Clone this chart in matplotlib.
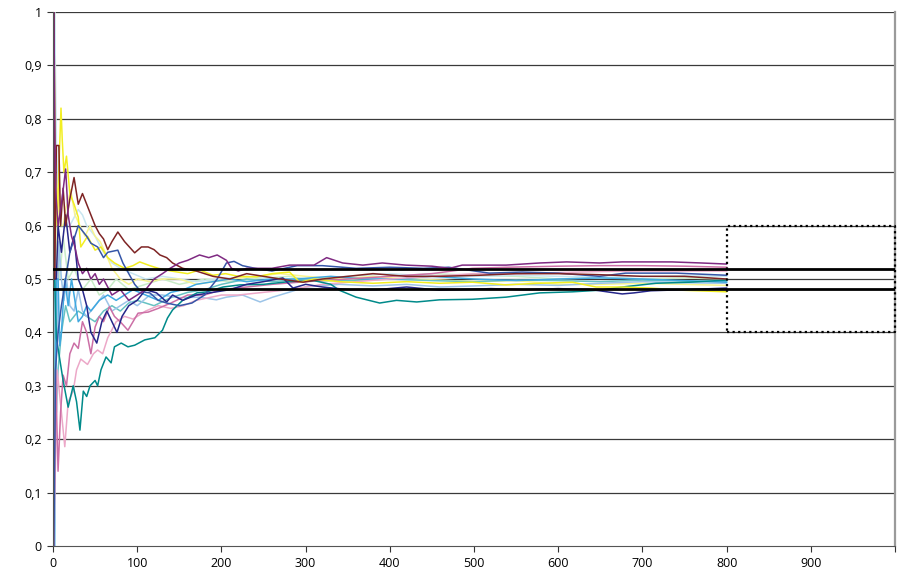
import matplotlib
matplotlib.use("Agg")
import matplotlib.pyplot as plt

# ---------------- data ----------------
maroon = [(1,1.0),(2,0.5),(4,0.75),(7,0.75),(9,0.6),(12,0.67),(15,0.6),(20,0.65),(25,0.69),(30,0.64),
          (35,0.66),(40,0.64),(45,0.62),(50,0.6),(55,0.585),(60,0.575),(65,0.555),(70,0.57),(77,0.588),
          (85,0.57),(97,0.549),(105,0.56),(113,0.56),(120,0.555),(127,0.545),(135,0.54),(142,0.53),
          (154,0.52),(170,0.515),(190,0.505),(210,0.5),(230,0.51),(250,0.505),(270,0.5),(297,0.494),
          (320,0.5),(350,0.505),(380,0.51),(420,0.505),(460,0.505),(506,0.507),(550,0.51),(600,0.51),
          (650,0.508),(700,0.505),(750,0.505),(800,0.5)]
purple = [(1,1.0),(3,0.67),(6,0.6),(10,0.64),(15,0.706),(18,0.62),(22,0.58),(26,0.56),(30,0.53),(35,0.51),
          (40,0.52),(45,0.5),(50,0.51),(55,0.49),(60,0.5),(70,0.47),(80,0.48),(90,0.46),(100,0.47),
          (110,0.48),(120,0.5),(130,0.51),(139,0.52),(150,0.53),(160,0.535),(174,0.545),(185,0.54),
          (195,0.545),(206,0.535),(212,0.52),(220,0.515),(230,0.52),(260,0.52),(281,0.526),(310,0.526),
          (325,0.54),(344,0.53),(368,0.526),(391,0.53),(419,0.526),(450,0.524),(471,0.52),(486,0.526),
          (538,0.526),(578,0.53),(610,0.532),(649,0.53),(676,0.532),(735,0.532),(770,0.53),(800,0.528)]
mauve = [(1,0.0),(3,0.33),(6,0.14),(9,0.25),(12,0.32),(16,0.3),(20,0.36),(25,0.38),(30,0.37),(35,0.42),
         (40,0.4),(45,0.36),(50,0.41),(55,0.43),(60,0.42),(67,0.448),(73,0.43),(81,0.418),(89,0.404),
         (101,0.436),(113,0.438),(125,0.445),(140,0.455),(160,0.47),(180,0.47),(200,0.48),(230,0.485),
         (260,0.49),(300,0.495),(350,0.5),(400,0.505),(450,0.51),(498,0.52),(540,0.522),(600,0.524),
         (650,0.525),(700,0.525),(750,0.524),(800,0.522)]
pink = [(1,0.0),(5,0.33),(10,0.25),(14,0.186),(18,0.27),(24,0.29),(28,0.33),(33,0.35),(41,0.34),(48,0.36),
        (53,0.367),(59,0.36),(65,0.39),(75,0.42),(85,0.43),(95,0.425),(110,0.44),(125,0.45),(140,0.445),
        (155,0.45),(170,0.46),(185,0.465),(200,0.47),(220,0.47),(250,0.475),(280,0.48),(320,0.49),
        (360,0.495),(400,0.5),(450,0.505),(500,0.51),(550,0.51),(600,0.512),(650,0.514),(700,0.515),
        (750,0.515),(800,0.515)]
teal = [(2,0.5),(4,0.39),(8,0.35),(12,0.31),(18,0.26),(24,0.3),(28,0.27),(32,0.217),(36,0.29),(40,0.28),
        (44,0.3),(50,0.31),(53,0.3),(57,0.33),(63,0.354),(69,0.343),(73,0.373),(81,0.38),(89,0.373),
        (97,0.376),(109,0.386),(121,0.39),(130,0.404),(136,0.427),(142,0.442),(154,0.46),(171,0.474),
        (183,0.476),(202,0.485),(222,0.489),(250,0.49),(280,0.495),(310,0.497),(330,0.49),(340,0.479),
        (360,0.466),(388,0.455),(408,0.46),(432,0.457),(459,0.461),(498,0.462),(538,0.466),(578,0.474),
        (617,0.476),(649,0.479),(676,0.485),(716,0.492),(756,0.494),(800,0.498)]
navy = [(1,1.0),(2,0.5),(4,0.5),(6,0.6),(10,0.55),(15,0.62),(20,0.55),(25,0.58),(30,0.5),(35,0.48),
        (40,0.45),(45,0.4),(52,0.38),(58,0.42),(64,0.44),(70,0.42),(76,0.4),(82,0.43),(90,0.45),(100,0.46),
        (110,0.48),(123,0.474),(135,0.457),(142,0.47),(154,0.46),(170,0.47),(190,0.475),(210,0.48),
        (230,0.49),(250,0.495),(273,0.502),(285,0.483),(300,0.49),(320,0.485),(332,0.483),(352,0.48),
        (384,0.48),(420,0.485),(459,0.479),(483,0.48),(520,0.482),(560,0.48),(600,0.482),(640,0.48),
        (676,0.472),(690,0.474),(710,0.478),(750,0.48),(800,0.483)]
blue = [(1,0.0),(3,0.33),(6,0.4),(10,0.45),(15,0.5),(20,0.55),(30,0.6),(40,0.58),(45,0.567),(53,0.56),
        (60,0.54),(65,0.55),(77,0.554),(83,0.53),(90,0.51),(97,0.49),(103,0.479),(110,0.475),(115,0.474),
        (125,0.46),(135,0.455),(150,0.45),(165,0.455),(180,0.47),(195,0.5),(206,0.53),(215,0.533),
        (225,0.525),(240,0.52),(260,0.515),(275,0.52),(290,0.525),(320,0.525),(360,0.52),(400,0.522),
        (440,0.52),(470,0.522),(518,0.511),(557,0.513),(600,0.511),(649,0.505),(680,0.511),(740,0.511),
        (800,0.507)]
yellow = [(1,1.0),(3,0.67),(5,0.6),(7,0.71),(9.5,0.82),(11,0.76),(13,0.7),(16,0.73),(20,0.66),(25,0.64),
          (30,0.616),(33,0.56),(41,0.58),(50,0.554),(57,0.56),(65,0.54),(73,0.53),(85,0.52),(95,0.525),
          (103,0.532),(115,0.525),(125,0.52),(140,0.515),(160,0.51),(174,0.517),(190,0.507),(205,0.51),
          (220,0.505),(242,0.504),(260,0.51),(281,0.513),(293,0.494),(310,0.5),(340,0.495),(380,0.492),
          (420,0.495),(459,0.492),(498,0.494),(538,0.489),(578,0.492),(617,0.494),(645,0.485),(676,0.485),
          (710,0.483),(747,0.479),(800,0.476)]
pale_yellow = [(1,1.0),(2,0.5),(4,0.5),(6,0.67),(9,0.6),(12,0.6),(15,0.63),(21,0.667),(26,0.62),(32,0.6),
               (38,0.58),(44,0.6),(50,0.58),(56,0.57),(62,0.55),(70,0.52),(80,0.5),(90,0.49),(100,0.5),
               (115,0.495),(130,0.5),(150,0.5),(170,0.49),(190,0.495),(210,0.5),(240,0.505),(270,0.51),
               (300,0.505),(340,0.5),(380,0.505),(420,0.5),(460,0.498),(500,0.495),(550,0.497),(600,0.49),
               (650,0.49),(700,0.492),(750,0.49),(800,0.488)]
pale_cyan = [(1,1.0),(2,1.0),(4,0.75),(6,0.67),(10,0.6),(15,0.6),(20,0.6),(30,0.63),(35,0.62),(40,0.6),
             (50,0.58),(60,0.55),(70,0.53),(80,0.52),(95,0.51),(110,0.5),(130,0.505),(150,0.5),(170,0.495),
             (200,0.5),(230,0.505),(260,0.5),(300,0.5),(350,0.505),(400,0.51),(450,0.505),(500,0.505),
             (550,0.507),(600,0.505),(650,0.503),(700,0.505),(750,0.506),(800,0.505)]
pale_green = [(1,1.0),(2,1.0),(3,0.67),(5,0.6),(8,0.5),(12,0.58),(18,0.5),(25,0.52),(35,0.48),(45,0.5),
              (55,0.47),(65,0.48),(75,0.5),(90,0.48),(110,0.49),(130,0.5),(150,0.49),(180,0.5),(210,0.495),
              (240,0.5),(280,0.505),(320,0.495),(360,0.5),(400,0.505),(450,0.51),(500,0.507),(550,0.505),
              (600,0.5),(650,0.503),(700,0.5),(750,0.502),(800,0.5)]
sky = [(1,0.0),(2,0.0),(3,0.33),(4,0.5),(6,0.5),(8,0.375),(10,0.4),(14,0.5),(18,0.45),(22,0.5),(26,0.46),
       (30,0.42),(35,0.43),(40,0.45),(45,0.44),(55,0.46),(65,0.47),(75,0.46),(85,0.47),(95,0.48),(110,0.47),
       (125,0.46),(140,0.475),(155,0.48),(170,0.49),(190,0.495),(210,0.5),(230,0.495),(260,0.5),(290,0.5),
       (330,0.505),(370,0.5),(410,0.5),(450,0.505),(500,0.5),(550,0.497),(600,0.5),(650,0.502),(700,0.5),
       (750,0.497),(800,0.494)]
light_blue = [(1,1.0),(2,0.5),(3,0.33),(5,0.4),(7,0.57),(10,0.5),(13,0.46),(16,0.5),(20,0.45),(25,0.44),
              (30,0.48),(35,0.44),(40,0.43),(50,0.45),(60,0.47),(70,0.44),(80,0.45),(90,0.46),(100,0.45),
              (115,0.47),(130,0.47),(150,0.465),(174,0.466),(194,0.461),(206,0.466),(225,0.47),(246,0.457),
              (261,0.466),(280,0.475),(300,0.485),(340,0.49),(380,0.487),(420,0.49),(460,0.485),(500,0.487),
              (550,0.49),(600,0.488),(650,0.492),(700,0.495),(750,0.493),(800,0.492)]
turquoise = [(1,0.0),(2,0.5),(4,0.25),(6,0.33),(10,0.4),(15,0.45),(20,0.42),(30,0.44),(40,0.43),(50,0.42),
             (60,0.44),(70,0.45),(80,0.44),(90,0.455),(100,0.46),(120,0.45),(140,0.465),(160,0.475),
             (180,0.48),(200,0.49),(230,0.5),(260,0.495),(300,0.5),(350,0.497),(400,0.5),(450,0.497),
             (500,0.495),(550,0.498),(600,0.497),(650,0.495),(700,0.498),(750,0.496),(800,0.495)]

band_upper = 0.518
band_lower = 0.482
box_x = [800, 1000]
box_y = [0.4, 0.6]
x_ticks = [0, 100, 200, 300, 400, 500, 600, 700, 800, 900, 1000]
x_labels = ["0", "100", "200", "300", "400", "500", "600", "700", "800", "900", ""]
y_ticks = [0, 0.1, 0.2, 0.3, 0.4, 0.5, 0.6, 0.7, 0.8, 0.9, 1.0]
y_labels = ["0", "0,1", "0,2", "0,3", "0,4", "0,5", "0,6", "0,7", "0,8", "0,9", "1"]

series = [
    (pale_green, "#c8ecc8"), (pale_cyan, "#c8e6f0"), (pale_yellow, "#f8f490"),
    (turquoise, "#66c2c2"), (light_blue, "#9cc4e8"), (sky, "#3fa8e0"),
    (pink, "#eca8c8"), (mauve, "#cc6fa6"), (teal, "#008a8a"),
    (yellow, "#f2ee22"), (navy, "#26268a"), (blue, "#3556a8"),
    (maroon, "#7e2424"), (purple, "#7f2a82"),
]

# ---------------- figure ----------------
plt.rcParams['font.family'] = ['Open Sans', 'DejaVu Sans']
fig = plt.figure(figsize=(9.04, 5.76), dpi=100)
ax = fig.add_axes([53/904, 30/576, 842/904, 534/576])

for yv in y_ticks[1:]:
    ax.axhline(yv, color="#3a3a3a", lw=0.9, zorder=1)

for pts, col in series:
    xs = [p[0] for p in pts]
    ys = [p[1] for p in pts]
    ax.plot(xs, ys, color=col, lw=1.1, zorder=2)

ax.axhline(band_upper, color="black", lw=2.0, zorder=4)
ax.axhline(band_lower, color="black", lw=2.0, zorder=4)

ax.plot([box_x[0], box_x[1], box_x[1], box_x[0], box_x[0]],
        [box_y[0], box_y[0], box_y[1], box_y[1], box_y[0]],
        color="black", lw=1.6, ls=(0, (1, 1.5)), zorder=5, clip_on=False)

ax.set_xlim(0, 1000)
ax.set_ylim(0, 1)
ax.set_xticks(x_ticks)
ax.set_xticklabels(x_labels)
ax.set_yticks(y_ticks)
ax.set_yticklabels(y_labels)
ax.tick_params(axis="both", direction="out", length=4, width=0.8, color="#333333",
               labelsize=9, pad=4)
ax.spines["top"].set_visible(False)
ax.spines["right"].set_color("#9a9a9a")
ax.spines["right"].set_linewidth(1.6)
ax.spines["left"].set_color("#555555")
ax.spines["bottom"].set_color("#555555")

fig.savefig("out.png", dpi=100)
